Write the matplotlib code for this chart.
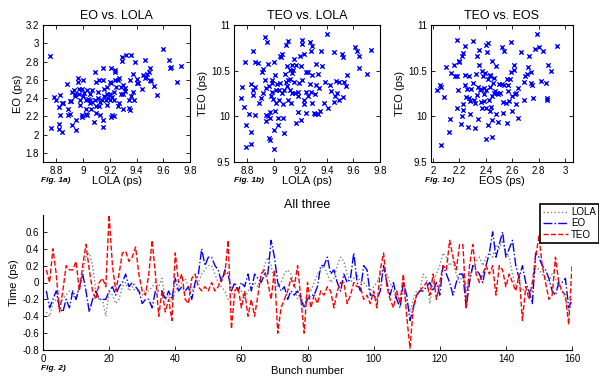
import matplotlib
matplotlib.use("Agg")
import matplotlib.pyplot as plt
from matplotlib.ticker import FormatStrFormatter
import numpy as np

plt.rcParams['font.family'] = ['Liberation Sans', 'DejaVu Sans']

# ---- scatter data ----
# Fig. 1a: EO vs LOLA
lola_a = [8.75, 8.76, 8.78, 8.80, 8.82, 8.82, 8.82, 8.83, 8.83, 8.84, 8.84, 8.85, 8.88, 8.89, 8.90,
          8.90, 8.89, 8.91, 8.92, 8.92, 8.93, 8.94, 8.94, 8.95, 8.95, 8.96, 8.96, 8.97, 8.97, 8.98,
          8.98, 8.99, 8.99, 8.99, 9.00, 9.00, 9.01, 9.02, 9.02, 9.02, 9.03, 9.03, 9.04, 9.05, 9.05,
          9.05, 9.06, 9.07, 9.07, 9.08, 9.09, 9.09, 9.10, 9.10, 9.10, 9.11, 9.11, 9.12, 9.12, 9.13,
          9.13, 9.14, 9.15, 9.15, 9.15, 9.15, 9.16, 9.16, 9.17, 9.18, 9.18, 9.18, 9.19, 9.20, 9.20,
          9.20, 9.21, 9.21, 9.21, 9.22, 9.22, 9.23, 9.23, 9.23, 9.24, 9.24, 9.24, 9.25, 9.26, 9.26,
          9.27, 9.27, 9.28, 9.28, 9.29, 9.29, 9.30, 9.30, 9.30, 9.31, 9.31, 9.32, 9.34, 9.34, 9.35,
          9.35, 9.36, 9.36, 9.37, 9.37, 9.38, 9.39, 9.40, 9.40, 9.41, 9.44, 9.45, 9.46, 9.46, 9.47,
          9.48, 9.49, 9.50, 9.50, 9.51, 9.53, 9.55, 9.60, 9.64, 9.65, 9.66, 9.70, 9.73]
eo_a = [2.86, 2.07, 2.41, 2.38, 2.30, 2.12, 2.06, 2.22, 2.43, 2.35, 2.03, 2.35, 2.55, 2.22, 2.23,
        2.37, 2.28, 2.37, 2.10, 2.47, 2.49, 2.44, 2.42, 2.16, 2.05, 2.62, 2.58, 2.50, 2.45, 2.38,
        2.32, 2.22, 2.19, 2.50, 2.60, 2.42, 2.46, 2.38, 2.23, 2.28, 2.22, 2.49, 2.39, 2.38, 2.35,
        2.44, 2.28, 2.36, 2.49, 2.14, 2.38, 2.69, 2.58, 2.31, 2.24, 2.40, 2.47, 2.60, 2.31, 2.36,
        2.22, 2.38, 2.73, 2.60, 2.16, 2.08, 2.50, 2.42, 2.38, 2.44, 2.52, 2.32, 2.40, 2.38, 2.58,
        2.44, 2.19, 2.56, 2.73, 2.41, 2.22, 2.38, 2.47, 2.20, 2.60, 2.71, 2.68, 2.52, 2.31, 2.60,
        2.35, 2.62, 2.44, 2.52, 2.85, 2.81, 2.54, 2.28, 2.45, 2.51, 2.48, 2.87, 2.29, 2.38, 2.60,
        2.27, 2.87, 2.42, 2.47, 2.66, 2.38, 2.79, 2.57, 2.61, 2.57, 2.50, 2.65, 2.62, 2.82, 2.63,
        2.66, 2.68, 2.60, 2.73, 2.59, 2.53, 2.43, 2.94, 2.82, 2.73, 2.74, 2.58, 2.75]

# Fig. 1b: TEO vs LOLA
lola_b = [8.755, 8.76, 8.775, 8.785, 8.79, 8.79, 8.81, 8.825, 8.825, 8.83, 8.84, 8.84, 8.845, 8.855,
          8.855, 8.855, 8.88, 8.89, 8.905, 8.91, 8.915, 8.92, 8.93, 8.93, 8.94, 8.94, 8.94, 8.95,
          8.955, 8.955, 8.96, 8.965, 8.97, 8.97, 8.97, 8.98, 8.985, 8.985, 8.99, 8.995, 9.00, 9.00,
          9.005, 9.01, 9.01, 9.02, 9.02, 9.025, 9.03, 9.035, 9.04, 9.04, 9.05, 9.05, 9.055, 9.06,
          9.06, 9.07, 9.07, 9.075, 9.08, 9.085, 9.09, 9.09, 9.10, 9.10, 9.105, 9.11, 9.11, 9.12,
          9.12, 9.125, 9.13, 9.135, 9.14, 9.14, 9.145, 9.155, 9.155, 9.16, 9.17, 9.17, 9.18, 9.18,
          9.185, 9.19, 9.20, 9.205, 9.205, 9.21, 9.215, 9.215, 9.225, 9.23, 9.23, 9.24, 9.24, 9.245,
          9.255, 9.26, 9.27, 9.27, 9.28, 9.28, 9.285, 9.29, 9.29, 9.30, 9.31, 9.31, 9.32, 9.32,
          9.33, 9.335, 9.34, 9.35, 9.355, 9.36, 9.375, 9.385, 9.40, 9.405, 9.425, 9.43, 9.455,
          9.455, 9.46, 9.47, 9.475, 9.49, 9.49, 9.51, 9.52, 9.52, 9.53, 9.545, 9.555, 9.61, 9.63,
          9.645, 9.645, 9.70, 9.735]
teo_b = [10.20, 10.32, 10.10, 10.59, 9.91, 9.66, 10.03, 9.83, 9.70, 10.35, 10.72, 10.23, 10.29,
         10.32, 10.01, 10.60, 10.58, 10.15, 10.20, 10.49, 10.25, 10.52, 10.40, 10.87, 10.31, 10.02,
         9.95, 10.81, 10.57, 10.00, 9.76, 10.33, 9.74, 9.98, 10.05, 10.22, 10.27, 10.36, 10.40,
         10.19, 9.85, 9.64, 10.59, 10.06, 10.45, 10.15, 10.29, 10.35, 9.90, 9.98, 10.18, 10.29,
         10.66, 10.37, 10.65, 10.68, 10.26, 10.13, 9.98, 9.82, 10.29, 10.46, 10.38, 10.78, 10.33,
         10.55, 10.82, 10.18, 10.40, 10.51, 10.29, 10.41, 10.15, 10.47, 10.26, 10.56, 10.51, 10.63,
         10.38, 10.26, 9.93, 10.56, 10.05, 10.27, 10.22, 10.37, 10.66, 9.96, 10.55, 10.79, 10.84,
         10.40, 10.18, 10.14, 10.68, 10.49, 10.27, 10.04, 10.22, 10.48, 10.81, 10.35, 10.71, 10.27,
         10.77, 10.45, 10.15, 10.04, 10.03, 10.24, 10.34, 10.57, 10.03, 10.46, 10.31, 10.06, 10.71,
         10.55, 10.15, 10.38, 10.90, 10.09, 10.34, 10.28, 10.16, 10.70, 10.22, 10.39, 10.26, 10.18,
         10.38, 10.68, 10.21, 10.65, 10.38, 10.33, 10.45, 10.76, 10.71, 10.66, 10.53, 10.46, 10.73]

# Fig. 1c: TEO vs EOS
eos_c = [2.03, 2.05, 2.06, 2.06, 2.08, 2.10, 2.12, 2.13, 2.14, 2.16, 2.165, 2.18, 2.18, 2.18, 2.19,
         2.20, 2.20, 2.21, 2.22, 2.22, 2.225, 2.23, 2.23, 2.24, 2.24, 2.245, 2.25, 2.26, 2.265, 2.27,
         2.275, 2.28, 2.28, 2.29, 2.30, 2.30, 2.31, 2.315, 2.32, 2.325, 2.33, 2.335, 2.34, 2.34,
         2.345, 2.345, 2.355, 2.36, 2.365, 2.37, 2.37, 2.38, 2.385, 2.39, 2.39, 2.395, 2.40, 2.40,
         2.405, 2.405, 2.41, 2.415, 2.42, 2.42, 2.425, 2.43, 2.43, 2.435, 2.435, 2.44, 2.445, 2.445,
         2.45, 2.45, 2.455, 2.46, 2.465, 2.47, 2.475, 2.48, 2.485, 2.49, 2.495, 2.50, 2.51, 2.52,
         2.525, 2.53, 2.53, 2.535, 2.54, 2.55, 2.557, 2.56, 2.567, 2.57, 2.575, 2.58, 2.59, 2.59,
         2.595, 2.60, 2.61, 2.61, 2.62, 2.625, 2.63, 2.64, 2.645, 2.67, 2.69, 2.69, 2.70, 2.71,
         2.72, 2.73, 2.74, 2.74, 2.75, 2.76, 2.77, 2.79, 2.80, 2.82, 2.83, 2.855, 2.86, 2.865, 2.87,
         2.895, 2.94]
teo_c = [10.29, 10.34, 10.32, 9.69, 10.21, 10.54, 9.83, 9.97, 10.47, 10.56, 10.44, 10.44, 10.09,
         10.84, 10.29, 10.59, 10.61, 9.92, 10.00, 10.66, 10.14, 10.07, 10.69, 10.77, 10.45, 10.34,
         10.21, 10.30, 9.88, 10.44, 10.20, 10.17, 10.03, 10.30, 10.83, 10.37, 10.18, 10.15, 9.87,
         10.46, 10.66, 10.23, 9.97, 10.32, 10.73, 10.56, 10.29, 10.16, 10.30, 10.50, 10.09, 10.44,
         10.31, 10.24, 10.17, 10.47, 10.09, 9.75, 10.29, 10.78, 10.70, 10.80, 10.41, 9.91, 10.18,
         10.06, 10.45, 10.32, 10.44, 10.10, 9.96, 10.61, 9.77, 10.22, 10.36, 10.25, 10.42, 10.28,
         10.55, 10.03, 10.26, 9.94, 10.24, 10.35, 10.26, 10.76, 10.35, 10.16, 10.04, 10.72, 10.34,
         10.15, 9.93, 10.41, 10.34, 10.28, 10.17, 10.41, 10.49, 10.81, 10.22, 10.06, 10.51, 10.56,
         10.24, 10.14, 10.26, 9.98, 10.31, 10.70, 10.38, 10.18, 10.44, 10.46, 10.54, 10.66, 10.37,
         10.49, 10.34, 10.20, 10.74, 10.90, 10.76, 10.39, 10.72, 10.37, 10.20, 10.18, 10.56, 10.50,
         10.77]

# ---- Fig. 2: per-bunch time offsets (ps) ----
bunch = list(range(1, 161))
lola_t = [-0.35, -0.4, -0.25, -0.2, -0.25, -0.2, -0.15, -0.1, -0.15, -0.2,
          -0.05, 0.1, 0.3, 0.35, 0.2, -0.1, -0.2, -0.2, -0.4, -0.1,
          -0.15, -0.25, -0.2, -0.05, 0.0, -0.1, -0.05, -0.1, -0.1, -0.15,
          -0.1, -0.1, -0.05, 0.0, -0.05, 0.05, -0.2, -0.15, -0.25, -0.1,
          -0.05, 0.0, 0.05, -0.05, -0.1, -0.05, 0.0, 0.1, 0.15, 0.2,
          0.2, 0.1, 0.0, -0.05, -0.1, -0.2, -0.15, -0.1, -0.05, -0.1,
          -0.2, -0.1, -0.05, 0.0, -0.05, 0.1, 0.2, 0.3, 0.2, 0.0,
          -0.05, 0.0, 0.1, 0.15, 0.1, 0.0, -0.2, -0.15, -0.3, -0.1,
          -0.1, 0.0, 0.1, 0.15, 0.2, 0.1, 0.0, 0.05, 0.2, 0.3,
          0.25, 0.1, 0.0, 0.05, 0.1, 0.0, 0.0, -0.05, -0.1, -0.05,
          0.0, 0.1, 0.15, 0.1, 0.0, -0.1, -0.2, -0.15, -0.1, -0.25,
          -0.35, -0.2, -0.1, -0.1, 0.1, 0.05, -0.25, 0.0, 0.1, 0.2,
          0.35, 0.3, 0.2, 0.25, 0.1, 0.0, 0.1, -0.1, 0.05, 0.2,
          0.25, 0.3, 0.2, 0.3, 0.35, 0.3, 0.45, 0.4, 0.5, 0.35,
          0.3, 0.1, -0.05, 0.0, -0.1, -0.05, -0.15, -0.1, 0.2, 0.15,
          0.1, 0.05, 0.0, 0.1, 0.05, -0.05, -0.1, -0.2, -0.35, -0.2]
eo_t = [-0.1, -0.3, -0.2, -0.1, -0.3, -0.35, -0.2, -0.3, -0.1, -0.2,
        -0.05, 0.1, -0.1, -0.35, -0.2, -0.1, -0.2, -0.2, -0.2, -0.1,
        -0.05, -0.15, -0.05, 0.0, 0.1, -0.05, 0.0, -0.05, -0.1, -0.25,
        -0.2, -0.2, -0.3, -0.1, -0.1, -0.1, -0.2, -0.1, -0.2, 0.05,
        -0.1, -0.05, -0.1, -0.05, -0.2, 0.0, 0.1, 0.4, 0.2, 0.3,
        0.3, 0.2, 0.15, 0.0, 0.15, 0.1, -0.1, 0.0, -0.1, 0.0,
        -0.05, 0.1, -0.1, 0.1, 0.05, 0.0, 0.1, 0.1, 0.5, 0.3,
        0.0, -0.1, -0.05, -0.2, -0.1, -0.15, -0.1, -0.2, -0.3, -0.2,
        -0.15, -0.15, -0.05, 0.2, 0.2, 0.3, 0.1, 0.15, 0.0, -0.1,
        0.1, 0.0, 0.05, 0.35, 0.0, -0.1, 0.2, 0.15, -0.15, -0.15,
        -0.2, -0.1, 0.2, 0.0, -0.15, 0.0, -0.2, -0.3, 0.0, -0.15,
        -0.45, -0.3, -0.15, -0.1, -0.1, -0.05, 0.0, -0.1, 0.0, -0.15,
        0.2, 0.1, 0.0, -0.15, 0.0, 0.1, 0.1, -0.3, 0.0, 0.2,
        0.15, 0.1, 0.0, 0.2, 0.35, 0.6, 0.3, 0.45, 0.6, 0.3,
        0.4, 0.5, 0.2, 0.05, 0.2, 0.0, -0.1, -0.25, 0.35, 0.3,
        0.2, 0.15, 0.05, -0.1, -0.15, 0.0, 0.0, 0.05, -0.3, -0.2]
teo_t = [0.15, 0.0, 0.4, 0.1, -0.35, -0.1, 0.2, 0.15, 0.15, 0.25,
         -0.1, 0.2, 0.45, 0.15, -0.1, -0.2, 0.0, 0.05, -0.05, 0.8,
         0.2, -0.1, 0.1, 0.35, 0.37, 0.25, 0.3, 0.42, 0.1, -0.1,
         -0.15, 0.1, 0.5, 0.1, -0.4, -0.1, -0.35, -0.2, -0.45, 0.35,
         0.0, 0.1, -0.2, -0.25, 0.05, 0.1, -0.05, -0.1, -0.05, -0.1,
         0.0, -0.1, -0.05, 0.05, 0.1, 0.5, -0.55, -0.1, -0.05, -0.3,
         -0.1, -0.4, -0.2, -0.4, -0.15, 0.1, 0.15, 0.0, -0.2, 0.15,
         -0.6, -0.3, -0.2, -0.1, 0.05, -0.05, 0.2, -0.2, -0.6, 0.0,
         -0.3, -0.15, -0.25, -0.1, -0.15, -0.05, -0.1, -0.3, -0.1, 0.0,
         0.0, -0.25, -0.15, 0.0, -0.05, -0.05, -0.2, -0.15, -0.25, -0.1,
         -0.3, 0.15, 0.35, -0.05, -0.2, -0.3, -0.1, -0.25, 0.1, -0.4,
         -0.78, -0.3, -0.15, -0.1, -0.05, 0.0, -0.15, 0.1, -0.2, 0.0,
         0.2, 0.15, 0.5, 0.3, 0.15, 0.45, 0.45, -0.3, 0.2, 0.45,
         0.1, 0.0, 0.1, 0.2, 0.1, 0.2, -0.15, 0.2, 0.15, -0.05,
         0.1, 0.0, -0.1, 0.1, -0.45, -0.05, -0.2, 0.0, 0.3, 0.55,
         0.2, 0.0, -0.2, -0.15, 0.3, 0.0, -0.1, -0.15, -0.5, 0.2]

lola_ticks = [8.8, 9, 9.2, 9.4, 9.6, 9.8]
eo_ticks = [1.8, 2, 2.2, 2.4, 2.6, 2.8, 3, 3.2]
teo_ticks = [9.5, 10, 10.5, 11]
eos_ticks = [2, 2.2, 2.4, 2.6, 2.8, 3]
bunch_ticks = [0, 20, 40, 60, 80, 100, 120, 140, 160]
time_ticks = [-0.8, -0.6, -0.4, -0.2, 0, 0.2, 0.4, 0.6]

W, H = 599.0, 376.0


def px_axes(fig, left, top, right, bottom):
    # axes from pixel box
    return fig.add_axes([left / W, 1 - bottom / H, (right - left) / W, (bottom - top) / H])


def style(ax, box=True):
    ax.tick_params(direction='in', length=3, width=0.6, labelsize=7, pad=3,
                   top=box, right=box)
    for s in ax.spines.values():
        s.set_linewidth(0.8)
    if not box:
        ax.spines['top'].set_visible(False)
        ax.spines['right'].set_visible(False)
    ax.xaxis.set_major_formatter(FormatStrFormatter('%g'))
    ax.yaxis.set_major_formatter(FormatStrFormatter('%g'))


fig = plt.figure(figsize=(W / 100, H / 100), dpi=100)

mk = dict(marker='x', color='blue', s=10, linewidths=1.0)

ax1 = px_axes(fig, 43, 25, 190, 162)
ax1.scatter(lola_a, eo_a, **mk)
ax1.set_xlim(8.7, 9.8)
ax1.set_ylim(1.7, 3.2)
ax1.set_xticks(lola_ticks)
ax1.set_yticks(eo_ticks)
ax1.set_title('EO vs. LOLA', fontsize=9, pad=4)
ax1.set_xlabel('LOLA (ps)', fontsize=8, labelpad=0)
ax1.set_ylabel('EO (ps)', fontsize=8, labelpad=2)
style(ax1)

ax2 = px_axes(fig, 234, 25, 380, 162)
ax2.scatter(lola_b, teo_b, **mk)
ax2.set_xlim(8.7, 9.8)
ax2.set_ylim(9.5, 11)
ax2.set_xticks(lola_ticks)
ax2.set_yticks(teo_ticks)
ax2.set_title('TEO vs. LOLA', fontsize=9, pad=4)
ax2.set_xlabel('LOLA (ps)', fontsize=8, labelpad=0)
ax2.set_ylabel('TEO (ps)', fontsize=8, labelpad=2)
style(ax2)

ax3 = px_axes(fig, 431, 25, 573, 162)
ax3.scatter(eos_c, teo_c, **mk)
ax3.set_xlim(1.985, 3.06)
ax3.set_ylim(9.5, 11)
ax3.set_xticks(eos_ticks)
ax3.set_yticks(teo_ticks)
ax3.set_title('TEO vs. EOS', fontsize=9, pad=4)
ax3.set_xlabel('EOS (ps)', fontsize=8, labelpad=0)
ax3.set_ylabel('TEO (ps)', fontsize=8, labelpad=2)
style(ax3)

ax4 = px_axes(fig, 43, 215, 572, 350)
ax4.plot(bunch, lola_t, ':', color='0.5', lw=1.0, label='LOLA')
ax4.plot(bunch, eo_t, '-.', color='blue', lw=1.0, label='EO')
ax4.plot(bunch, teo_t, '--', color='red', lw=1.0, label='TEO')
ax4.set_xlim(0, 160)
ax4.set_ylim(-0.8, 0.8)
ax4.set_xticks(bunch_ticks)
ax4.set_yticks(time_ticks)
ax4.set_title('All three', fontsize=9, pad=5)
ax4.set_xlabel('Bunch number', fontsize=8, labelpad=1)
ax4.set_ylabel('Time (ps)', fontsize=8, labelpad=2)
style(ax4, box=False)
leg = ax4.legend(loc='upper right', bbox_to_anchor=(1.0, 1 - 204 / H),
                 bbox_transform=fig.transFigure, fontsize=7, fancybox=False,
                 framealpha=1, edgecolor='black', handlelength=2.6,
                 borderpad=0.3, labelspacing=0.15, handletextpad=0.3,
                 borderaxespad=0)
leg.get_frame().set_linewidth(1.2)

fl = dict(fontsize=6, fontweight='bold', fontstyle='italic', va='center', ha='left')
fig.text(41 / W, 1 - 180 / H, 'Fig. 1a)', **fl)
fig.text(234 / W, 1 - 180 / H, 'Fig. 1b)', **fl)
fig.text(425 / W, 1 - 180 / H, 'Fig. 1c)', **fl)
fig.text(41 / W, 1 - 368 / H, 'Fig. 2)', **fl)

fig.savefig('out.png', dpi=100)
